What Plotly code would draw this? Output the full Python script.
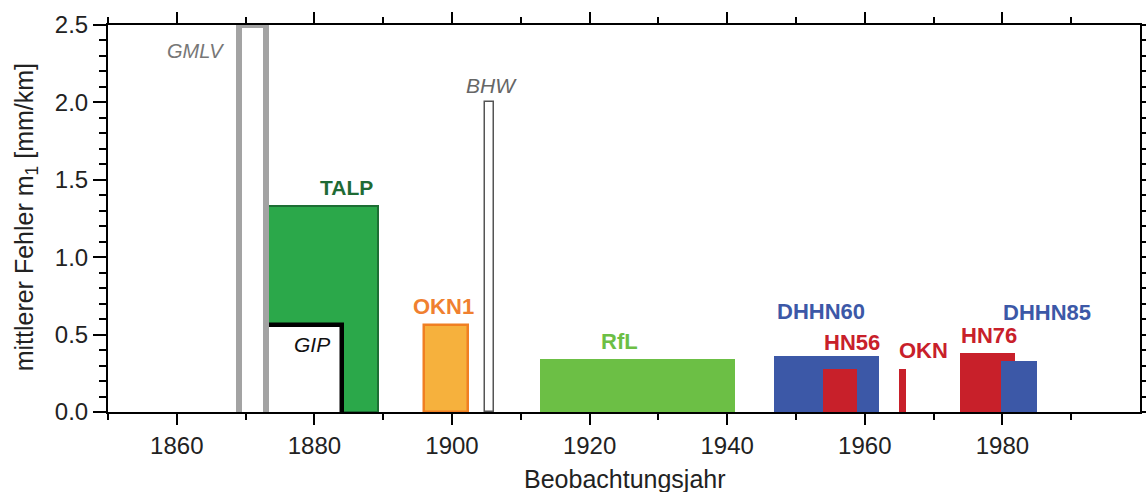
import plotly.graph_objects as go

# ---- data ----
names = ["TALP", "GIP", "GMLV", "OKN1", "BHW", "RfL", "DHHN60", "HN56", "OKN", "HN76", "DHHN85"]
start_year = [1872.9, 1872.9, 1869.05, 1895.96, 1904.85, 1912.76, 1946.75, 1953.9, 1964.9, 1973.9, 1979.8]
end_year = [1889.2, 1884.0, 1872.9, 1902.3, 1906.1, 1941.1, 1962.0, 1958.9, 1966.0, 1981.9, 1985.0]
error_mm_km = [1.33, 0.56, 2.5, 0.565, 2.0, 0.34, 0.36, 0.28, 0.28, 0.38, 0.33]
bar_base = [0, -0.05, -0.05, 0, 0, 0, 0, 0, 0, 0, 0]

x_tick_vals = [1860, 1880, 1900, 1920, 1940, 1960, 1980]
x_minor_vals = [1850, 1870, 1890, 1910, 1930, 1950, 1970, 1990]
y_tick_vals = [0.0, 0.5, 1.0, 1.5, 2.0, 2.5]

# ---- styles ----
fill_colors = ["#2ba84a", "#ffffff", "rgba(0,0,0,0)", "#f6b13d", "#ffffff", "#6cbf45",
               "#3c58a7", "#c8202a", "#c8202a", "#c8202a", "#3c58a7"]
line_colors = ["#1d6e34", "#000000", "#a3a3a3", "#f07f22", "#555555", "#6cbf45",
               "#3c58a7", "#c8202a", "#c8202a", "#c8202a", "#3c58a7"]
line_widths = [2, 4.5, 6, 2.5, 1.5, 0, 0, 0, 0, 0, 0]

label_text = ["<b>TALP</b>", "<i>GIP</i>", "<i>GMLV</i>", "<b>OKN1</b>", "<i>BHW</i>", "<b>RfL</b>",
              "<b>DHHN60</b>", "<b>HN56</b>", "<b>OKN</b>", "<b>HN76</b>", "<b>DHHN85</b>"]
label_x = [1884.7, 1879.6, 1862.66, 1898.7, 1905.75, 1924.4, 1953.7, 1958.2, 1968.6, 1978.1, 1986.5]
label_y = [1.45, 0.435, 2.33, 0.68, 2.11, 0.455, 0.65, 0.45, 0.40, 0.495, 0.645]
label_colors = ["#1e6b35", "#111111", "#777777", "#f08030", "#666666", "#6cbf45",
                "#3c58a7", "#c8202a", "#c8202a", "#c8202a", "#3c58a7"]
label_sizes = [21, 21, 20, 22, 21, 22, 22, 22, 22, 22, 22]

FONT = "Liberation Sans, Arial, Helvetica, sans-serif"

centers = [(s + e) / 2 for s, e in zip(start_year, end_year)]
widths = [e - s for s, e in zip(start_year, end_year)]
heights = [v - b for v, b in zip(error_mm_km, bar_base)]

fig = go.Figure()
fig.add_trace(go.Bar(
    x=centers, y=heights, base=bar_base, width=widths,
    marker=dict(color=fill_colors, line=dict(color=line_colors, width=line_widths)),
    showlegend=False, hoverinfo="skip",
))

for t, x, y, c, s in zip(label_text, label_x, label_y, label_colors, label_sizes):
    fig.add_annotation(x=x, y=y, text=t, showarrow=False, xanchor="center", yanchor="middle",
                       font=dict(family=FONT, size=s, color=c))

# axis titles
fig.add_annotation(xref="paper", yref="paper", x=0.501, y=-0.172, text="Beobachtungsjahr",
                   showarrow=False, xanchor="center", yanchor="middle",
                   font=dict(family=FONT, size=25, color="#222222"))
fig.add_annotation(xref="paper", yref="paper", x=0, xshift=-82, y=0.503,
                   text="mittlerer Fehler m<sub>1</sub> [mm/km]", textangle=-90,
                   showarrow=False, xanchor="center", yanchor="middle",
                   font=dict(family=FONT, size=25, color="#222222"))

fig.update_layout(
    width=1146, height=492,
    margin=dict(l=108, r=6, t=25, b=80, autoexpand=False),
    paper_bgcolor="white", plot_bgcolor="white",
    barmode="overlay", bargap=0,
    font=dict(family=FONT, size=24, color="#222222"),
    xaxis=dict(
        range=[1850, 2000], tickmode="array", tickvals=x_tick_vals,
        ticks="outside", ticklen=11, tickwidth=1.5, tickcolor="black",
        minor=dict(tickmode="array", tickvals=x_minor_vals, ticks="outside", ticklen=6,
                   tickwidth=1.5, tickcolor="black"),
        showline=True, linecolor="black", linewidth=2, mirror="ticks",
        showgrid=False, zeroline=False, automargin=False,
        tickfont=dict(size=24, color="#222222"),
    ),
    yaxis=dict(
        range=[0, 2.5], tickmode="array", tickvals=y_tick_vals, tickformat=".1f",
        ticks="outside", ticklen=13, tickwidth=1.5, tickcolor="black",
        minor=dict(dtick=0.1, tick0=0, ticks="outside", ticklen=7, tickwidth=1.5,
                   tickcolor="black"),
        showline=True, linecolor="black", linewidth=2, mirror="ticks",
        showgrid=False, zeroline=False, automargin=False,
        tickfont=dict(size=24, color="#222222"),
    ),
)

fig.write_html("out.html",
               post_script="document.body.style.margin='0';document.body.style.overflow='hidden';")
